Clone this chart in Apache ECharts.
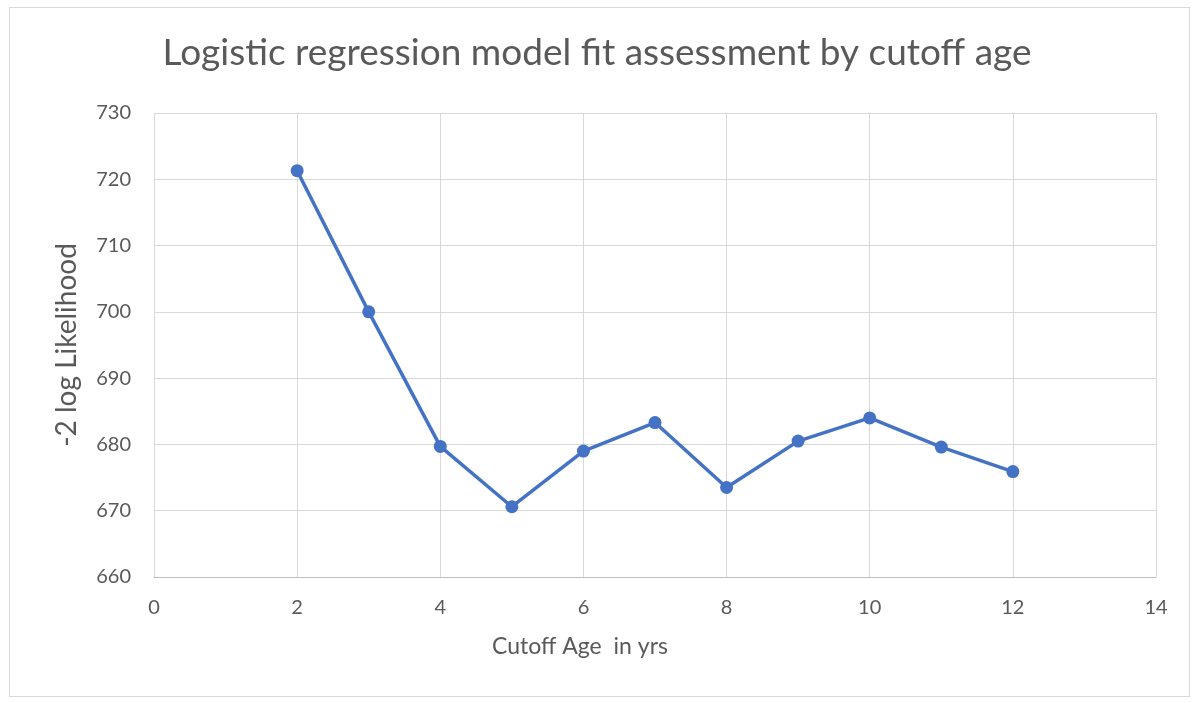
<!DOCTYPE html>
<html>
<head>
<meta charset="utf-8">
<script src="https://cdn.jsdelivr.net/npm/echarts@6/dist/echarts.min.js"></script>
<style>
html,body{margin:0;padding:0;background:#fff;}
#frame{position:absolute;left:9px;top:7px;width:1181px;height:690px;border:1px solid #d9d9d9;box-sizing:border-box;}
#chart{position:absolute;left:0;top:0;width:1194px;height:703px;}
</style>
</head>
<body>
<div id="frame"></div>
<div id="chart"></div>
<script>
const titleText = 'Logistic regression model fit assessment by cutoff age';
const xAxisName = 'Cutoff Age  in yrs';
const yAxisName = '-2 log Likelihood';
const cutoffAges = [2, 3, 4, 5, 6, 7, 8, 9, 10, 11, 12];
const logLikelihood = [721.3, 700.0, 679.7, 670.6, 679.0, 683.3, 673.5, 680.5, 684.0, 679.6, 675.9];

const points = cutoffAges.map((x, i) => [x, logLikelihood[i]]);
const fontFam = 'Lato, "Open Sans", sans-serif';
const chart = echarts.init(document.getElementById('chart'), null, {renderer: 'canvas'});
chart.setOption({
  animation: false,
  backgroundColor: 'transparent',
  title: {
    text: titleText,
    left: 'center',
    top: 30,
    textStyle: {fontFamily: fontFam, fontSize: 37, fontWeight: 'normal', color: '#595959'}
  },
  grid: {left: 154, right: 38, top: 113, bottom: 126},
  xAxis: {
    type: 'value', min: 0, max: 14, interval: 2,
    name: xAxisName, nameLocation: 'middle', nameGap: 58,
    nameTextStyle: {fontFamily: fontFam, fontSize: 23, color: '#595959', padding: [0, 150, 0, 0]},
    axisLine: {show: true, lineStyle: {color: '#bfbfbf', width: 1}},
    axisTick: {show: false},
    axisLabel: {fontFamily: fontFam, fontSize: 20, color: '#595959', margin: 21},
    splitLine: {show: true, lineStyle: {color: '#d9d9d9', width: 1}}
  },
  yAxis: {
    type: 'value', min: 660, max: 730, interval: 10,
    name: yAxisName, nameLocation: 'middle', nameGap: 73, nameRotate: 90,
    nameTextStyle: {fontFamily: fontFam, fontSize: 28, color: '#595959'},
    axisLine: {show: false},
    axisTick: {show: false},
    axisLabel: {fontFamily: fontFam, fontSize: 20, color: '#595959', margin: 23},
    splitLine: {show: true, lineStyle: {color: '#d9d9d9', width: 1}}
  },
  series: [{
    type: 'line',
    data: points,
    symbol: 'circle',
    symbolSize: 13,
    lineStyle: {color: '#4472C4', width: 3.5},
    itemStyle: {color: '#4472C4'}
  }]
});
</script>
</body>
</html>
